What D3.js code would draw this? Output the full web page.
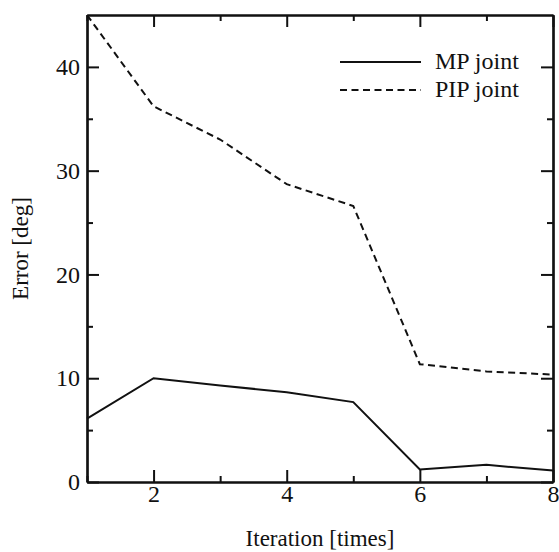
<!DOCTYPE html>
<html lang="en">
<head>
    <meta charset="utf-8">
    <title>Error vs Iteration</title>
    <script type="text/javascript" src="https://d3js.org/d3.v7.min.js"></script>
    <style type="text/css">
        body { margin: 0; background: #fff; }
        svg text { font-family: "Liberation Serif", Tinos, "Times New Roman", Times, "DejaVu Serif", serif; fill: #111; }
    </style>
</head>
<body>
    <script type="text/javascript">

        const iterations = [1, 2, 3, 4, 5, 6, 7, 8];
        const mpJoint = [6.1, 10.0, 9.3, 8.65, 7.7, 1.2, 1.65, 1.1];
        const pipJoint = [45.0, 36.2, 33.0, 28.7, 26.6, 11.35, 10.65, 10.35];
        const seriesNames = ["MP joint", "PIP joint"];
        const xTicks = [2, 4, 6, 8];
        const yTicks = [0, 10, 20, 30, 40];

        const width = 559;
        const height = 552;
        const margin = { top: 15, right: 6, bottom: 70, left: 87 };
        const serif = '"Liberation Serif", Tinos, "Times New Roman", Times, "DejaVu Serif", serif';

        const svg = d3.select("body")
                    .append("svg")
                    .attr("width", width)
                    .attr("height", height);

        // Scales
        const xScale = d3.scaleLinear()
                        .domain([1, 8])
                        .range([margin.left, width - margin.right]);

        const yScale = d3.scaleLinear()
                        .domain([0, 45])
                        .range([height - margin.bottom, margin.top]);

        const x0 = margin.left, x1 = width - margin.right;
        const y0 = height - margin.bottom, y1 = margin.top;

        // Axes (ticks inward, mirrored on all four sides)
        const minorX = d3.range(1, 9, 1).filter(v => !xTicks.includes(v));
        const minorY = d3.range(5, 45, 10);

        svg.append("g")
            .attr("transform", `translate(0,${y0})`)
            .call(d3.axisBottom(xScale).tickValues(xTicks).tickSizeInner(-12).tickSizeOuter(0).tickPadding(3).tickFormat(d3.format("d")));
        svg.append("g")
            .attr("transform", `translate(0,${y1})`)
            .call(d3.axisTop(xScale).tickValues(xTicks).tickSizeInner(-12).tickSizeOuter(0).tickFormat(""));
        svg.append("g")
            .attr("transform", `translate(${x0},0)`)
            .call(d3.axisLeft(yScale).tickValues(yTicks).tickSizeInner(-12).tickSizeOuter(0).tickPadding(7).tickFormat(d3.format("d")));
        svg.append("g")
            .attr("transform", `translate(${x1},0)`)
            .call(d3.axisRight(yScale).tickValues(yTicks).tickSizeInner(-12).tickSizeOuter(0).tickFormat(""));

        svg.append("g").attr("transform", `translate(0,${y0})`)
            .call(d3.axisBottom(xScale).tickValues(minorX).tickSizeInner(-6).tickSizeOuter(0).tickFormat(""));
        svg.append("g").attr("transform", `translate(0,${y1})`)
            .call(d3.axisTop(xScale).tickValues(minorX).tickSizeInner(-6).tickSizeOuter(0).tickFormat(""));
        svg.append("g").attr("transform", `translate(${x0},0)`)
            .call(d3.axisLeft(yScale).tickValues(minorY).tickSizeInner(-6).tickSizeOuter(0).tickFormat(""));
        svg.append("g").attr("transform", `translate(${x1},0)`)
            .call(d3.axisRight(yScale).tickValues(minorY).tickSizeInner(-6).tickSizeOuter(0).tickFormat(""));

        svg.selectAll("g").attr("font-family", serif);
        svg.selectAll(".domain").attr("stroke", "#111").attr("stroke-width", 2.2);
        svg.selectAll(".tick line").attr("stroke", "#111").attr("stroke-width", 2);
        svg.selectAll(".tick text")
            .attr("font-family", serif)
            .attr("font-size", 24)
            .attr("fill", "#111");

        // Lines
        const line = vals => d3.line()
            .x((d, i) => xScale(iterations[i]))
            .y(d => yScale(d))(vals);

        svg.append("path")
            .attr("d", line(mpJoint))
            .attr("fill", "none")
            .attr("stroke", "#111")
            .attr("stroke-width", 2);

        svg.append("path")
            .attr("d", line(pipJoint))
            .attr("fill", "none")
            .attr("stroke", "#111")
            .attr("stroke-width", 2)
            .attr("stroke-dasharray", "7,4.5");

        // Legend
        const legend = svg.append("g");
        seriesNames.forEach((name, i) => {
            const ly = 62 + i * 28;
            legend.append("line")
                .attr("x1", 340).attr("x2", 421)
                .attr("y1", ly).attr("y2", ly)
                .attr("stroke", "#111")
                .attr("stroke-width", 2)
                .attr("stroke-dasharray", i === 1 ? "7,4.5" : null);
            legend.append("text")
                .attr("x", 435)
                .attr("y", ly + 7)
                .attr("font-family", serif)
                .attr("font-size", 24)
                .text(name);
        });

        // Axis titles
        svg.append("text")
            .attr("x", (x0 + x1) / 2)
            .attr("y", 546)
            .attr("text-anchor", "middle")
            .attr("font-family", serif)
            .attr("font-size", 23)
            .text("Iteration [times]");

        svg.append("text")
            .attr("transform", "rotate(-90)")
            .attr("x", -(y0 + y1) / 2)
            .attr("y", 28)
            .attr("text-anchor", "middle")
            .attr("font-family", serif)
            .attr("font-size", 23)
            .text("Error [deg]");
    </script>
</body>
</html>
